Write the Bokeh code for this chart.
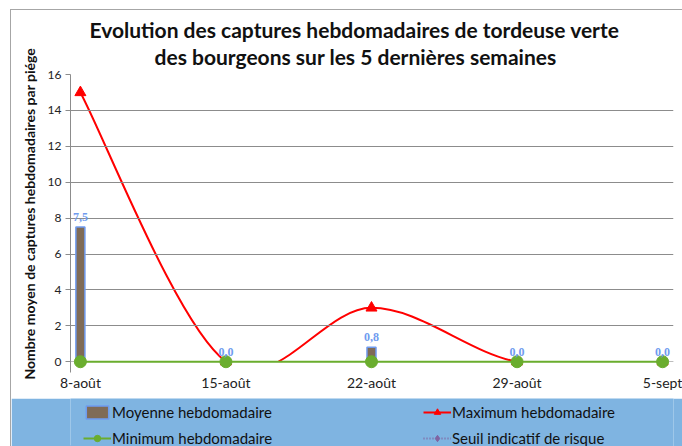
import numpy as np
from bokeh.plotting import figure
from bokeh.layouts import column
from bokeh.models import (ColumnDataSource, LabelSet, Legend, LegendItem,
                          FixedTicker, BoxAnnotation, Range1d, Title)
from bokeh.embed import file_html
from bokeh.resources import INLINE

# ---- data ----
categories = ["8-août", "15-août", "22-août", "29-août", "5-sept"]
moyenne = [7.5, 0.0, 0.8, 0.0, 0.0]
maximum = [15, 0, 3, 0, 0]
minimum = [0, 0, 0, 0, 0]
seuil = [np.nan, np.nan, np.nan, np.nan, np.nan]   # no threshold values shown
y_ticks = [0, 2, 4, 6, 8, 10, 12, 14, 16]

title_lines = ["Evolution des captures hebdomadaires de tordeuse verte",
               "des bourgeons sur les 5 dernières semaines"]
y_label = "Nombre moyen de captures hebdomadaires par piége"
legend_labels = ["Moyenne hebdomadaire", "Maximum hebdomadaire",
                 "Minimum hebdomadaire", "Seuil indicatif de risque"]

FONT = "Lato"
BAR_FILL, BAR_LINE = "#7f6b57", "#6f9bef"
RED, GREEN, PURPLE = "#ff0000", "#6aad2e", "#8064a2"
BAND = "#7fb4e1"

xs = list(range(len(categories)))

p = figure(width=671, height=388, output_backend="svg", toolbar_location=None,
           x_range=Range1d(-0.068, 4.075), y_range=Range1d(-0.6, 16),
           min_border_left=56, min_border_right=9, min_border_top=64,
           min_border_bottom=26)
p.outline_line_color = None

# axes
p.xaxis.ticker = FixedTicker(ticks=xs)
p.xaxis.major_label_overrides = {i: c for i, c in enumerate(categories)}
p.xaxis.major_tick_line_color = None
p.xaxis.major_tick_out = 0
p.xaxis.major_tick_in = 0
p.xaxis.minor_tick_line_color = None
p.xaxis.axis_line_color = None
p.xaxis.major_label_standoff = 1
p.xaxis.major_label_text_font = FONT
p.xaxis.major_label_text_font_size = "14px"
p.xaxis.major_label_text_color = "#222222"

p.yaxis.ticker = FixedTicker(ticks=y_ticks)
p.yaxis.minor_tick_line_color = None
p.yaxis.major_tick_in = 0
p.yaxis.major_tick_out = 5
p.yaxis.major_tick_line_color = "#8c8c8c"
p.yaxis.axis_line_color = "#8c8c8c"
p.yaxis.major_label_standoff = 4
p.yaxis.major_label_text_font = FONT
p.yaxis.major_label_text_font_size = "12px"
p.yaxis.major_label_text_color = "#222222"

p.xgrid.grid_line_color = None
p.ygrid.ticker = FixedTicker(ticks=y_ticks)
p.ygrid.grid_line_color = "#8c8c8c"
p.ygrid.grid_line_width = 1

# y axis title (placed as a side title so it can be shifted like the original)
p.add_layout(Title(text=y_label, align="left", offset=-7, standoff=14,
                   text_font=FONT, text_font_size="14px",
                   text_font_style="bold", text_color="#111111"), "left")

# titles (first added is closest to the plot)
p.add_layout(Title(text=title_lines[1], align="left", offset=84, standoff=11,
                   text_font=FONT, text_font_size="21px",
                   text_font_style="bold", text_color="#111111"), "above")
p.add_layout(Title(text=title_lines[0], align="left", offset=19, standoff=-10,
                   text_font=FONT, text_font_size="21px",
                   text_font_style="bold", text_color="#111111"), "above")

src = ColumnDataSource(dict(x=xs, moy=moyenne, mx=maximum, mn=minimum, se=seuil,
                            lab=[("%.1f" % v).replace(".", ",") for v in moyenne]))

# smoothed maximum line (Excel-like smoothing: cubic bezier through points)
px = np.array(xs, dtype=float)
py = np.array(maximum, dtype=float)
n = len(px)
seg = dict(x0=[], y0=[], x1=[], y1=[], cx0=[], cy0=[], cx1=[], cy1=[])
for i in range(n - 1):
    pm = i - 1 if i > 0 else i
    pp = i + 2 if i + 2 < n else i + 1
    seg["x0"].append(px[i]); seg["y0"].append(py[i])
    seg["x1"].append(px[i + 1]); seg["y1"].append(py[i + 1])
    seg["cx0"].append(px[i] + (px[i + 1] - px[pm]) / 6.0)
    seg["cy0"].append(py[i] + (py[i + 1] - py[pm]) / 6.0)
    seg["cx1"].append(px[i + 1] - (px[pp] - px[i]) / 6.0)
    seg["cy1"].append(py[i + 1] - (py[pp] - py[i]) / 6.0)
p.bezier(source=ColumnDataSource(seg), x0="x0", y0="y0", x1="x1", y1="y1",
         cx0="cx0", cy0="cy0", cx1="cx1", cy1="cy1",
         line_color=RED, line_width=2, level="image")

# hide the part of the smoothed line below the axis minimum (0)
p.add_layout(BoxAnnotation(top=0, bottom=-5, fill_color="white", fill_alpha=1.0,
                           line_color="white", line_width=1, level="underlay"))

# bars
p.vbar(x="x", top="moy", width=0.062, source=src, fill_color=BAR_FILL,
       line_color=BAR_LINE, line_width=1.5)

# maximum markers
p.scatter(x="x", y="mx", source=src, marker="triangle", size=11,
          fill_color=RED, line_color=RED)

# minimum
p.line(x="x", y="mn", source=src, line_color=GREEN, line_width=2)
p.scatter(x="x", y="mn", source=src, marker="circle", size=12,
          fill_color=GREEN, line_color=GREEN)

# seuil (no values)
p.line(x="x", y="se", source=src, line_color=PURPLE, line_width=2, line_dash="1 2")

# value labels
p.add_layout(LabelSet(x="x", y="moy", text="lab", source=src, y_offset=6,
                      text_align="center", text_baseline="bottom",
                      text_font=FONT, text_font_size="12px",
                      text_font_style="bold", text_color=BAR_LINE))

# ---- legend band (same series, view range kept away from the data) ----
pl = figure(width=671, height=48, output_backend="svg", toolbar_location=None,
            x_range=Range1d(100, 101), y_range=Range1d(100, 101),
            x_axis_location=None, y_axis_location=None,
            min_border=0, min_border_left=0, min_border_right=0,
            min_border_top=0, min_border_bottom=0)
pl.grid.visible = False
pl.outline_line_color = None
pl.background_fill_color = BAND
pl.border_fill_color = BAND

r_bar = pl.vbar(x="x", top="moy", width=0.1, source=src, fill_color=BAR_FILL,
                line_color=BAR_LINE, line_width=1.5)
r_maxl = pl.line(x="x", y="mx", source=src, line_color=RED, line_width=2)
r_maxp = pl.scatter(x="x", y="mx", source=src, marker="triangle", size=10,
                    fill_color=RED, line_color=RED)
r_minl = pl.line(x="x", y="mn", source=src, line_color=GREEN, line_width=2)
r_minp = pl.scatter(x="x", y="mn", source=src, marker="circle", size=10,
                    fill_color=GREEN, line_color=GREEN)
r_sl = pl.line(x="x", y="se", source=src, line_color=PURPLE, line_width=2,
               line_dash="1 2")
r_sp = pl.scatter(x="x", y="se", source=src, marker="diamond", size=10,
                  fill_color=PURPLE, line_color=PURPLE)

common = dict(padding=0, spacing=8, glyph_width=28, glyph_height=16,
              label_height=16, label_standoff=1, background_fill_alpha=0,
              border_line_color=None, margin=0, label_text_font=FONT,
              label_text_font_size="15px", label_text_color="#111111")
leg1 = Legend(items=[
    LegendItem(label=legend_labels[0], renderers=[r_bar]),
    LegendItem(label=legend_labels[2], renderers=[r_minl, r_minp]),
], location=(13, -1), **common)
leg2 = Legend(items=[
    LegendItem(label=legend_labels[1], renderers=[r_maxl, r_maxp]),
    LegendItem(label=legend_labels[3], renderers=[r_sl, r_sp]),
], location=(353, -1), **common)
pl.add_layout(leg1, "center")
pl.add_layout(leg2, "center")

layout = column(p, pl, spacing=0, margin=(9, 0, 0, 10),
                styles={"border-left": "1px solid #a6a6a6",
                        "border-top": "1px solid #a6a6a6"})

open("out.html", "w").write(file_html(layout, INLINE))
